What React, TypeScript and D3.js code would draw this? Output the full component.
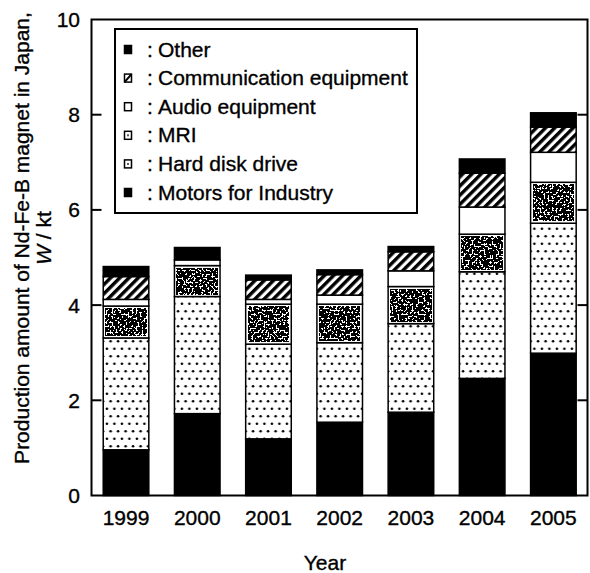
import * as d3 from 'd3'

// Production of Nd-Fe-B magnets in Japan, W / kt, by application
const years = ['1999', '2000', '2001', '2002', '2003', '2004', '2005']
const motors = [0.96, 1.72, 1.19, 1.54, 1.75, 2.46, 2.99]
const hardDisk = [2.35, 2.46, 1.99, 1.67, 1.86, 2.24, 2.73]
const mri = [0.67, 0.65, 0.84, 0.81, 0.78, 0.79, 0.86]
const audio = [0.14, 0.12, 0.10, 0.19, 0.33, 0.57, 0.63]
const communication = [0.48, 0, 0.41, 0.43, 0.40, 0.71, 0.53]
const other = [0.21, 0.26, 0.10, 0.10, 0.11, 0.30, 0.30]
const yTicks = [0, 2, 4, 6, 8, 10]

// stacking order, bottom to top
const keys = ['motors', 'hdd', 'mri', 'audio', 'comm', 'other']
const legendItems = [
  { key: 'other', label: 'Other' },
  { key: 'comm', label: 'Communication equipment' },
  { key: 'audio', label: 'Audio equipment' },
  { key: 'mri', label: 'MRI' },
  { key: 'hdd', label: 'Hard disk drive' },
  { key: 'motors', label: 'Motors for Industry' },
]

const W = 590
const H = 573
const FONT = 'Arial, "Liberation Sans", Helvetica, sans-serif'

const fillFor: Record<string, string> = {
  motors: '#000',
  hdd: 'url(#dots)',
  mri: '#fff',
  audio: '#fff',
  comm: 'url(#hatch)',
  other: '#000',
}

export default function App() {
  const rows = years.map((year, i) => ({
    year,
    motors: motors[i],
    hdd: hardDisk[i],
    mri: mri[i],
    audio: audio[i],
    comm: communication[i],
    other: other[i],
  }))
  const series = d3.stack<any>().keys(keys)(rows)

  const frame = { left: 91.5, right: 587.5, top: 19.5, bottom: 495.5 }
  const x = d3.scaleBand<string>()
    .domain(years)
    .range([90.4, 589])
    .paddingInner(0.36)
    .paddingOuter(0.18)
  const y = d3.scaleLinear().domain([0, 10]).range([frame.bottom, frame.top])

  const legend = { x: 115, y: 29, w: 302, h: 184, row0: 49.5, rowStep: 28.6 }
  // slight stroke on text to match the heavier scanned lettering
  const textProps = { fontSize: 21, fill: '#000', stroke: '#000', strokeWidth: 0.35 }

  return (
    <svg width={W} height={H} style={{ position: 'absolute', left: 0, top: 0, background: '#fff' }}
      fontFamily={FONT}>
      <defs>
        <pattern id="hatch" patternUnits="userSpaceOnUse" width="6.5" height="6.5" patternTransform="rotate(45)">
          <rect width="6.5" height="6.5" fill="#fff" />
          <rect width="3.4" height="6.5" fill="#000" />
        </pattern>
        <pattern id="dots" patternUnits="userSpaceOnUse" width="7.5" height="15">
          <rect width="7.5" height="15" fill="#fff" />
          <circle cx="1.9" cy="3.7" r="1.3" fill="#000" />
          <circle cx="5.6" cy="11.2" r="1.3" fill="#000" />
        </pattern>
        <filter id="noise" x="0" y="0" width="1" height="1" colorInterpolationFilters="sRGB">
          <feTurbulence type="fractalNoise" baseFrequency="0.5" numOctaves="2" seed="7" />
          <feColorMatrix type="matrix" values="1 0 0 0 -0.06  1 0 0 0 -0.06  1 0 0 0 -0.06  0 0 0 0 1" />
          <feComponentTransfer>
            <feFuncR type="discrete" tableValues="0 1" />
            <feFuncG type="discrete" tableValues="0 1" />
            <feFuncB type="discrete" tableValues="0 1" />
          </feComponentTransfer>
        </filter>
      </defs>

      {/* stacked bars */}
      {series.map(s => (
        <g key={s.key}>
          {s.map((d, i) => {
            const x0 = x(years[i])!
            const bw = x.bandwidth()
            const yTop = y(d[1])
            const h = y(d[0]) - yTop
            if (h < 0.5) return null
            return (
              <g key={i}>
                <rect x={x0} y={yTop} width={bw} height={h} fill={fillFor[s.key]}
                  stroke="#000" strokeWidth={1.5} />
                {s.key === 'mri' && h > 6 && (
                  <rect x={x0 + 2.5} y={yTop + 2.5} width={bw - 5} height={h - 5}
                    fill="#000" filter="url(#noise)" />
                )}
              </g>
            )
          })}
        </g>
      ))}

      {/* frame and ticks */}
      <rect x={frame.left} y={frame.top} width={frame.right - frame.left} height={frame.bottom - frame.top}
        fill="none" stroke="#000" strokeWidth={2} />
      {yTicks.slice(1, -1).map(t => (
        <g key={t}>
          <line x1={frame.left} x2={frame.left + 10} y1={y(t)} y2={y(t)} stroke="#000" strokeWidth={2} />
          <line x1={frame.right - 10} x2={frame.right} y1={y(t)} y2={y(t)} stroke="#000" strokeWidth={2} />
        </g>
      ))}
      {yTicks.map(t => (
        <text key={t} x={80} y={y(t)} dy="0.36em" textAnchor="end" {...textProps}>{t}</text>
      ))}
      {years.map(yr => (
        <text key={yr} x={x(yr)! + x.bandwidth() / 2} y={525} textAnchor="middle" {...textProps}>{yr}</text>
      ))}

      {/* axis titles */}
      <text x={325} y={570} textAnchor="middle" {...textProps}>Year</text>
      <text transform={`translate(28.5,238) rotate(-90)`} textAnchor="middle" {...textProps}>
        Production amount of Nd-Fe-B magnet in Japan,
      </text>
      <text transform={`translate(51,238) rotate(-90)`} textAnchor="middle" {...textProps}>
        <tspan fontStyle="italic">W</tspan> / kt
      </text>

      {/* legend */}
      <rect x={legend.x} y={legend.y} width={legend.w} height={legend.h} fill="#fff" stroke="#000" strokeWidth={2} />
      {legendItems.map((item, i) => {
        const cy = legend.row0 + i * legend.rowStep
        const sx = 124.5
        const sy = cy - 4
        return (
          <g key={item.key}>
            <rect x={sx} y={sy} width={7} height={8}
              fill={item.key === 'other' || item.key === 'motors' ? '#000' : '#fff'}
              stroke="#000" strokeWidth={1.5} />
            {item.key === 'comm' && (
              <line x1={sx} y1={sy + 8} x2={sx + 7} y2={sy} stroke="#000" strokeWidth={2} />
            )}
            {item.key === 'mri' && (
              <rect x={sx + 2.5} y={sy + 3} width={2} height={2} fill="#555" />
            )}
            {item.key === 'hdd' && (
              <circle cx={sx + 3.5} cy={sy + 4} r={0.9} fill="#000" />
            )}
            <text x={147} y={cy + 7} {...textProps}>:</text>
            <text x={158} y={cy + 7} {...textProps}>{item.label}</text>
          </g>
        )
      })}
    </svg>
  )
}
